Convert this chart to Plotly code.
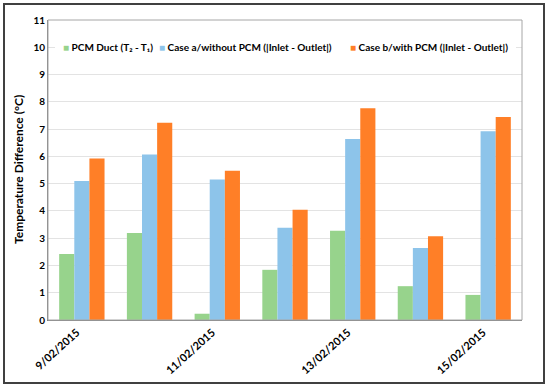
import plotly.graph_objects as go

dates = ["9/02/2015", "10/02/2015", "11/02/2015", "12/02/2015",
         "13/02/2015", "14/02/2015", "15/02/2015"]
pcm_duct = [2.42, 3.19, 0.23, 1.84, 3.27, 1.24, 0.92]
case_a = [5.10, 6.07, 5.15, 3.38, 6.64, 2.64, 6.92]
case_b = [5.92, 7.23, 5.47, 4.04, 7.76, 3.07, 7.44]
series_names = ["PCM Duct (T\u2082 - T\u2081)",
                "Case a/without PCM (|Inlet - Outlet|)",
                "Case b/with PCM (|Inlet - Outlet|)"]
colors = ["#97D38C", "#8DC4EA", "#FF7F27"]
shown_ticks = ["9/02/2015", "11/02/2015", "13/02/2015", "15/02/2015"]
y_ticks = list(range(0, 12))

FONT = "Lato"
L, R, T, B = 48, 28, 20, 67
W, H = 550, 387
PW, PH = W - L - R, H - T - B


def px(x):
    return (x - L) / PW


def py(y):
    return (H - B - y) / PH


fig = go.Figure()
for vals, name, col in zip([pcm_duct, case_a, case_b], series_names, colors):
    fig.add_trace(go.Bar(x=dates, y=vals, name=name,
                         marker=dict(color=col, line=dict(width=0))))

# manual legend
legend_x = [61, 157, 348]
annotations = []
for lx, name, col in zip(legend_x, series_names, colors):
    annotations.append(dict(
        xref="paper", yref="paper", x=px(lx), y=py(47), xanchor="left", yanchor="middle",
        showarrow=False,
        text=f"<span style='color:{col}'>\u25A0</span> <b>{name}</b>",
        font=dict(family=FONT, size=10, color="#000000")))

annotations.append(dict(
    xref="paper", yref="paper", x=px(18), y=0.5, xanchor="center", yanchor="middle",
    showarrow=False, textangle=-90,
    text="<b>Temperature Difference (\u00b0C)</b>",
    font=dict(family=FONT, size=12, color="#000000")))

fig.update_layout(
    width=W, height=H,
    margin=dict(l=L, r=R, t=T, b=B, autoexpand=False),
    paper_bgcolor="white", plot_bgcolor="white",
    barmode="group", bargap=0.33, bargroupgap=0,
    font=dict(family=FONT, size=11, color="#000000"),
    showlegend=False,
    annotations=annotations,
    xaxis=dict(type="category", tickmode="array", tickvals=shown_ticks, ticktext=shown_ticks,
               tickangle=-42, showgrid=False, showline=True, linecolor="#808080", linewidth=1,
               ticks="", automargin=False, ticklabelshift=-5, ticklabelstandoff=1,
               tickfont=dict(family=FONT, size=11, color="#000000", weight="bold")),
    yaxis=dict(range=[0, 11], tickmode="array", tickvals=y_ticks, showgrid=True,
               gridcolor="#E3E3E3", gridwidth=1, showline=True, linecolor="#808080",
               linewidth=1, ticks="", zeroline=False, automargin=False,
               tickfont=dict(family=FONT, size=10, color="#000000", weight="bold")),
    shapes=[
        dict(type="rect", xref="paper", yref="paper", x0=px(55), x1=px(516),
             y0=py(54), y1=py(40), line=dict(width=0), fillcolor="white", layer="above"),
        dict(type="rect", xref="paper", yref="paper", x0=0, x1=1, y0=0, y1=1,
             line=dict(color="#A6A6A6", width=1), fillcolor="rgba(0,0,0,0)", layer="above"),
        dict(type="rect", xref="paper", yref="paper", x0=px(4), x1=px(544),
             y0=py(383), y1=py(4), line=dict(color="#404040", width=2),
             fillcolor="rgba(0,0,0,0)", layer="above"),
    ],
)

fig.write_html("out.html", config={"displayModeBar": False},
               post_script="document.body.style.margin='0';")
